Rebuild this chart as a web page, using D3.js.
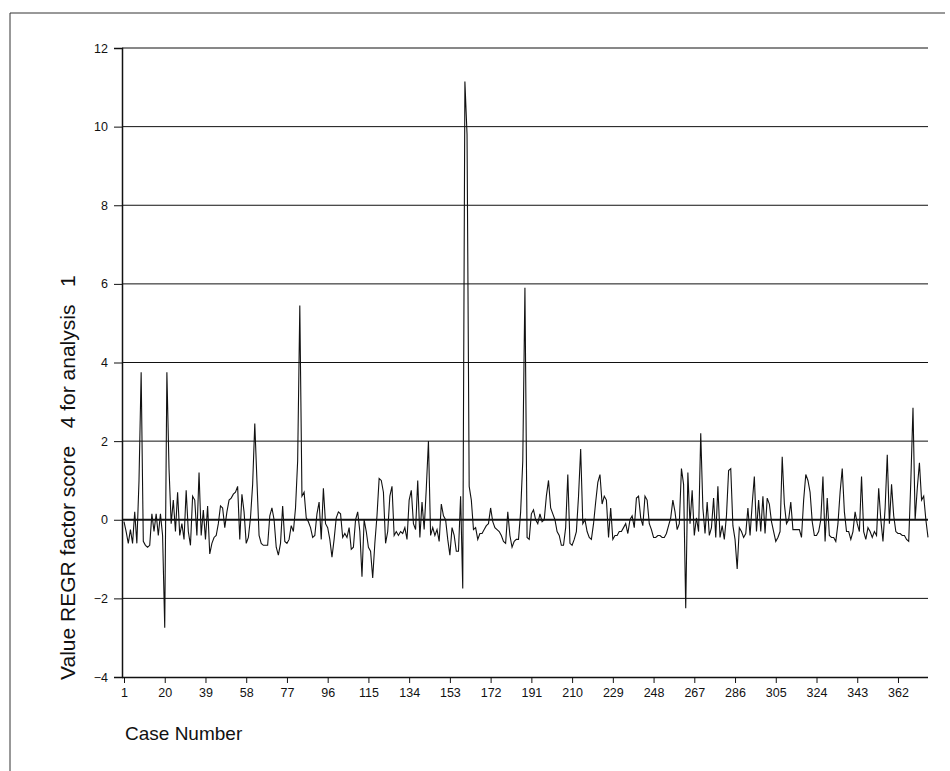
<!DOCTYPE html>
<html>
<head>
<meta charset="utf-8">
<script src="https://cdn.jsdelivr.net/npm/d3@7/dist/d3.min.js"></script>
<style>
  html, body { margin: 0; padding: 0; background: #fff; }
  svg { display: block; }
  text { font-family: Arial, "Liberation Sans", sans-serif; fill: #111; }
</style>
</head>
<body>
<svg id="chart" width="950" height="771"></svg>
<script>
// ---- data ----
const scoresA = [ // cases 1-47
  -0.05,-0.3,-0.6,-0.25,-0.6,0.2,-0.6,1.0,3.75,-0.55,
  -0.65,-0.7,-0.65,0.15,-0.3,0.15,-0.4,0.15,-0.4,-2.75,
  3.75,1.3,-0.1,0.5,-0.3,0.7,-0.4,-0.1,-0.5,0.75,
  -0.3,-0.65,0.6,0.5,-0.4,1.2,-0.4,0.25,-0.5,0.35,
  -0.87,-0.6,-0.45,-0.4,-0.1,0.35,0.3];
const scoresB = [ // cases 48-94
  -0.2,0.2,0.5,0.55,0.65,0.7,0.85,-0.5,0.65,0.2,
  -0.6,-0.45,0.05,0.9,2.45,1.0,-0.4,-0.6,-0.65,-0.65,
  -0.65,0.1,0.3,0.0,-0.7,-0.9,-0.6,0.35,-0.55,-0.6,
  -0.5,-0.15,-0.3,0.3,1.5,5.45,0.6,0.7,0.05,-0.05,
  -0.2,-0.45,-0.4,0.15,0.45,-0.5,0.8];
const scoresC = [ // cases 95-141
  -0.1,-0.2,-0.5,-0.95,-0.5,0.05,0.2,0.15,-0.45,-0.35,
  -0.45,-0.2,-0.75,-0.7,0.0,0.2,-0.3,-1.45,0.0,-0.3,
  -0.7,-0.8,-1.48,-0.6,0.1,1.05,1.0,0.7,-0.6,-0.3,
  0.6,0.85,-0.4,-0.3,-0.4,-0.3,-0.35,-0.2,-0.5,0.5,
  0.75,-0.1,-0.25,1.0,-0.45,0.45,-0.25];
const scoresD = [ // cases 142-188
  0.8,2.0,-0.4,-0.2,-0.4,-0.25,-0.55,0.4,0.1,0.0,
  -0.5,-0.9,-0.2,-0.4,-0.8,-0.8,0.6,-1.75,11.15,9.8,
  0.85,0.5,-0.25,-0.2,-0.5,-0.35,-0.35,-0.25,-0.15,-0.1,
  0.3,-0.05,-0.2,-0.25,-0.3,-0.4,-0.55,-0.6,0.2,-0.4,
  -0.7,-0.55,-0.5,-0.5,0.2,1.5,5.9];
const scoresE = [ // cases 189-235
  -0.45,-0.5,0.15,0.25,0.0,-0.1,0.15,-0.05,0.0,0.6,
  1.0,0.3,0.15,0.0,-0.3,-0.4,-0.65,-0.65,-0.2,1.15,
  -0.6,-0.65,-0.5,-0.3,0.6,1.8,-0.1,0.0,-0.3,-0.45,
  -0.5,-0.1,0.45,0.95,1.15,0.4,0.6,0.5,-0.45,0.3,
  -0.5,-0.4,-0.4,-0.3,-0.3,-0.2,-0.1];
const scoresF = [ // cases 236-282
  -0.35,0.0,0.1,-0.2,0.55,0.6,0.05,-0.15,0.6,0.5,
  -0.1,-0.25,-0.45,-0.45,-0.4,-0.4,-0.45,-0.45,-0.35,-0.15,
  0.05,0.5,0.2,-0.25,-0.1,1.3,0.9,-2.25,1.2,-0.1,
  0.75,-0.4,0.05,-0.3,2.2,0.3,-0.35,0.45,-0.4,-0.2,
  0.55,-0.45,0.85,-0.45,-0.15,-0.5,0.1];
const scoresG = [ // cases 283-329
  1.25,1.3,-0.15,-0.5,-1.25,-0.2,-0.3,-0.45,-0.35,0.3,
  -0.4,0.4,1.1,-0.3,0.5,-0.3,0.6,-0.35,0.55,0.4,
  -0.05,-0.3,-0.55,-0.45,-0.3,1.6,0.4,-0.1,0.0,0.45,
  -0.25,-0.25,-0.25,-0.25,-0.45,0.5,1.15,1.0,0.7,-0.05,
  -0.4,-0.4,-0.3,0.0,1.1,-0.55,0.55];
const scoresH = [ // cases 330-376
  -0.4,-0.45,-0.45,-0.55,-0.1,0.7,1.3,0.2,-0.3,-0.3,
  -0.5,-0.3,0.2,-0.1,-0.3,1.1,-0.3,-0.5,-0.2,-0.3,
  -0.45,-0.3,-0.4,0.8,0.0,-0.55,0.3,1.65,-0.1,0.9,
  0.1,-0.3,-0.35,-0.35,-0.4,-0.4,-0.5,-0.55,1.0,2.85,
  0.0,0.8,1.45,0.5,0.6,0.0,-0.45];

const scores = [].concat(scoresA, scoresB, scoresC, scoresD, scoresE, scoresF, scoresG, scoresH);
const caseNumbers = scores.map((_, i) => i + 1);
const xTickLabels = [1,20,39,58,77,96,115,134,153,172,191,210,229,248,267,286,305,324,343,362];
const yTickLabels = [-4,-2,0,2,4,6,8,10,12];
const yTitle = "Value REGR factor score   4 for analysis   1";
const xTitle = "Case Number";

// ---- drawing ----
const svg = d3.select("#chart");
const plotLeft = 122, plotRight = 928, plotTop = 48, plotBottom = 677;

const x = d3.scaleLinear().domain([1, caseNumbers.length]).range([124, plotRight]);
const y = d3.scaleLinear().domain([-4, 12]).range([plotBottom, plotTop]);

// page border (scanned frame)
svg.append("line").attr("x1", 10).attr("x2", 945).attr("y1", 13).attr("y2", 13)
  .attr("stroke", "#333").attr("stroke-width", 1);
svg.append("line").attr("x1", 10).attr("x2", 10).attr("y1", 13).attr("y2", 771)
  .attr("stroke", "#333").attr("stroke-width", 1);

// gridlines
svg.append("g").selectAll("line")
  .data(yTickLabels.filter(d => d !== -4))
  .join("line")
  .attr("x1", plotLeft).attr("x2", plotRight)
  .attr("y1", d => y(d)).attr("y2", d => y(d))
  .attr("stroke", "#111")
  .attr("stroke-width", d => d === 0 ? 2 : 1);

// y axis
const yAxis = svg.append("g")
  .attr("transform", `translate(${plotLeft},0)`)
  .call(d3.axisLeft(y).tickValues(yTickLabels).tickSize(8).tickPadding(6).tickFormat(d3.format("d")));
yAxis.select(".domain").attr("stroke", "#111").attr("stroke-width", 1.5);
yAxis.selectAll(".tick line").attr("stroke", "#111");
yAxis.selectAll("text").attr("font-size", 12.5).attr("font-family", "Arial, 'Liberation Sans', sans-serif").attr("fill", "#111");

// x axis
const xAxis = svg.append("g")
  .attr("transform", `translate(0,${plotBottom})`)
  .call(d3.axisBottom(x).tickValues(xTickLabels).tickSize(6).tickPadding(5).tickFormat(d3.format("d")).tickSizeOuter(0));
xAxis.select(".domain").attr("stroke", "#111").attr("stroke-width", 1.5)
  .attr("d", `M${plotLeft},0.5H${plotRight}`);
xAxis.selectAll(".tick line").attr("stroke", "#111");
xAxis.selectAll("text").attr("font-size", 12.5).attr("font-family", "Arial, 'Liberation Sans', sans-serif").attr("fill", "#111");

// series line
const line = d3.line()
  .x((d, i) => x(caseNumbers[i]))
  .y(d => y(d));
svg.append("path")
  .datum(scores)
  .attr("fill", "none")
  .attr("stroke", "#111")
  .attr("stroke-width", 1.1)
  .attr("stroke-linejoin", "miter")
  .attr("d", line);

// titles
svg.append("text")
  .attr("transform", `translate(75,${plotBottom + 3}) rotate(-90)`)
  .attr("text-anchor", "start")
  .style("white-space", "pre")
  .attr("font-size", 21)
  .text(yTitle);

svg.append("text")
  .attr("x", 125).attr("y", 740)
  .attr("font-size", 19)
  .text(xTitle);
</script>
</body>
</html>
